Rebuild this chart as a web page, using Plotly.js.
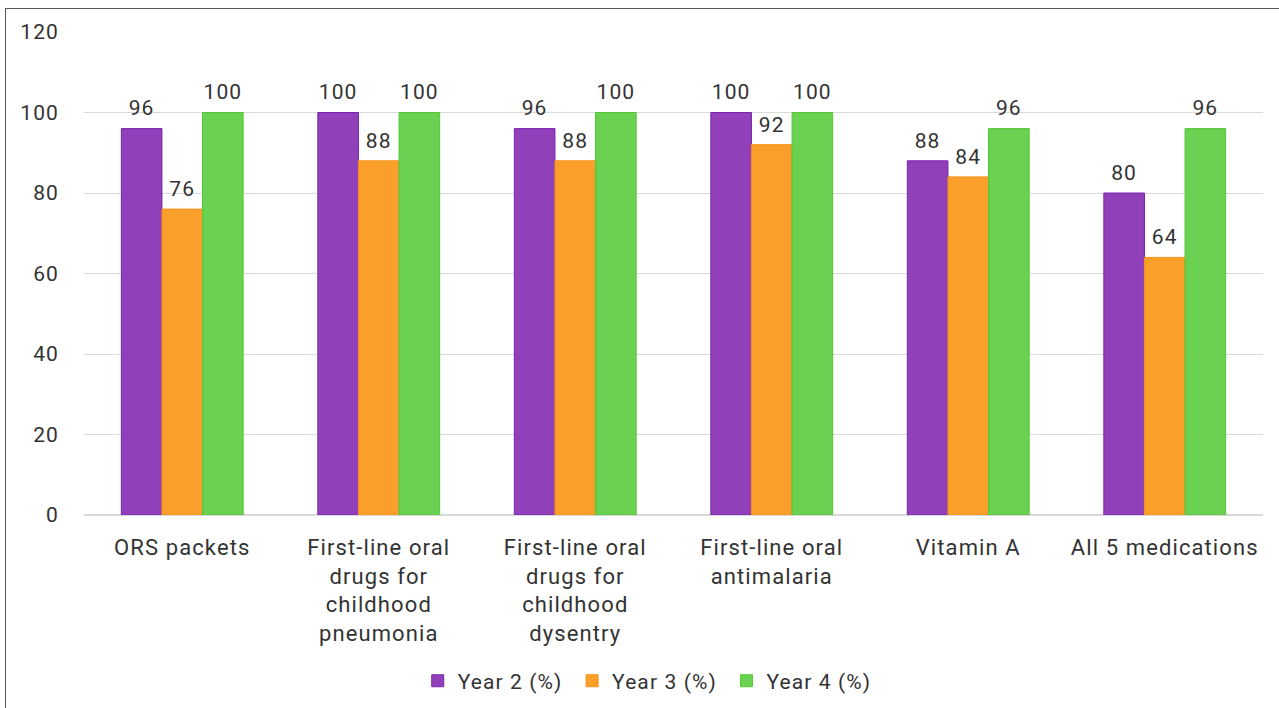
<!DOCTYPE html>
<html>
<head>
<meta charset="utf-8">
<script src="https://cdn.plot.ly/plotly-3.0.1.min.js"></script>
<style>
html,body{margin:0;padding:0;overflow:hidden;background:#fff;}
#chart{width:1279px;height:708px;}
#chart text{letter-spacing:1.1px;}
#frame{position:absolute;left:5px;top:8px;width:1300px;height:720px;border:1.5px solid #555;pointer-events:none;}
</style>
</head>
<body>
<div id="chart"></div>
<div id="frame"></div>
<script>
const categories = [
  "ORS packets",
  "First-line oral<br>drugs for<br>childhood<br>pneumonia",
  "First-line oral<br>drugs for<br>childhood<br>dysentry",
  "First-line oral<br>antimalaria",
  "Vitamin A",
  "All 5 medications"
];
const seriesNames = ["Year 2 (%)", "Year 3 (%)", "Year 4 (%)"];
const year2 = [96, 100, 96, 100, 88, 80];
const year3 = [76, 88, 88, 92, 84, 64];
const year4 = [100, 100, 100, 100, 96, 96];
const yTicks = [0, 20, 40, 60, 80, 100, 120];

const fills = ["#9040b9", "#f99f2a", "#6bd152"];
const borders = ["#7a22b0", "#f7901a", "#52c733"];
const values = [year2, year3, year4];
const NB = "\u00a0\u00a0\u00a0";

const barTraces = values.map((v, i) => ({
  type: "bar",
  name: seriesNames[i] + NB,
  x: categories,
  y: v,
  offsetgroup: "g" + i,
  marker: {color: fills[i], line: {color: borders[i], width: 1}},
  hoverinfo: "skip"
}));

const labelTraces = values.map((v, i) => ({
  type: "scatter",
  mode: "markers+text",
  x: categories,
  y: v,
  offsetgroup: "g" + i,
  text: v.map(String),
  textposition: "top center",
  cliponaxis: false,
  showlegend: false,
  hoverinfo: "skip",
  marker: {size: 11, opacity: 0, color: fills[i]},
  textfont: {family: "Roboto, sans-serif", size: 21, color: "#333"}
}));

const layout = {
  width: 1279, height: 708,
  margin: {l: 84, r: 16, t: 32, b: 193},
  paper_bgcolor: "#fff", plot_bgcolor: "#fff",
  font: {family: "Roboto, sans-serif", color: "#333", size: 21},
  barmode: "group",
  bargap: 0.38,
  bargroupgap: 0,
  scattermode: "group",
  scattergap: 0.38,
  showlegend: true,
  legend: {orientation: "h", x: 0.508, xanchor: "center", xref: "container",
           y: 0.038, yanchor: "middle", yref: "container",
           font: {size: 21, color: "#333"}, traceorder: "normal", itemwidth: 30},
  xaxis: {type: "category", tickfont: {size: 22, color: "#333"}, showgrid: false,
          showline: false, ticks: "", automargin: false, ticklabelstandoff: 17},
  yaxis: {range: [0, 120], tickvals: yTicks, ticktext: yTicks.map(String),
          tickfont: {size: 21, color: "#333"}, gridcolor: "#d9d9d9", gridwidth: 1,
          zeroline: true, zerolinecolor: "#d9d9d9", zerolinewidth: 1.5,
          showline: false, ticks: "", ticklabelstandoff: 24, automargin: false}
};

Plotly.newPlot("chart", barTraces.concat(labelTraces), layout, {displayModeBar: false, staticPlot: true});
</script>
</body>
</html>
